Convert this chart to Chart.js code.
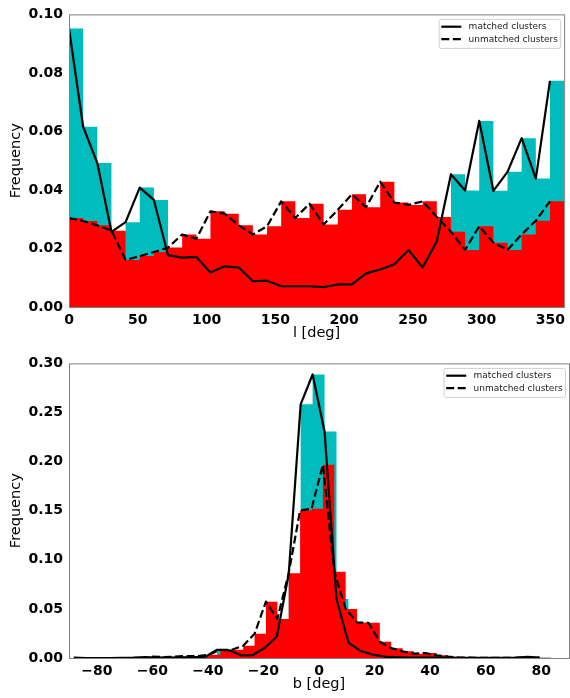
<!DOCTYPE html>
<html>
<head>
<meta charset="utf-8">
<script src="https://cdn.jsdelivr.net/npm/chart.js@4"></script>
<style>
  html, body { margin: 0; padding: 0; background: #ffffff; }
  #wrap { position: relative; width: 570px; height: 698px; }
  canvas { position: absolute; left: 0; }
  #topChart { top: 0; }
  #bottomChart { top: 349px; }
</style>
</head>
<body>
<div id="wrap">
  <canvas id="topChart" width="570" height="349"></canvas>
  <canvas id="bottomChart" width="570" height="349"></canvas>
</div>
<script>
// ---- Galactic longitude l: 35 equal bins over 0..360 deg ----
const lBinStart = 0;
const lBinWidth = 360 / 35;
const lMatched = [0.0952, 0.0616, 0.0492, 0.0257, 0.0290, 0.0408, 0.0366, 0.0177, 0.0169, 0.0171,
                  0.0118, 0.0139, 0.0135, 0.0088, 0.0090, 0.0071, 0.0071, 0.0071, 0.0068, 0.0077,
                  0.0077, 0.0115, 0.0128, 0.0146, 0.0195, 0.0135, 0.0225, 0.0454, 0.0398, 0.0636,
                  0.0397, 0.0462, 0.0577, 0.0439, 0.0773];
const lUnmatched = [0.0304, 0.0294, 0.0279, 0.0261, 0.0161, 0.0174, 0.0188, 0.0203, 0.0248, 0.0233,
                    0.0327, 0.0319, 0.0279, 0.0248, 0.0276, 0.0361, 0.0304, 0.0353, 0.0282, 0.0332,
                    0.0385, 0.0341, 0.0428, 0.0357, 0.0349, 0.0361, 0.0308, 0.0257, 0.0195, 0.0276,
                    0.0220, 0.0195, 0.0248, 0.0295, 0.0361];

// ---- Galactic latitude b: each sample has its own binning ----
const bMatchedStart = -88.3;
const bMatchedWidth = 4.3;
const bMatched = [0.0003, 0.0000, 0.0000, 0.0000, 0.0002, 0.0003, 0.0008, 0.0003, 0.0005, 0.0007,
                  0.0007, 0.0012, 0.0084, 0.0078, 0.0027, 0.0030, 0.0105, 0.0216, 0.0854, 0.2583,
                  0.2887, 0.2306, 0.0601, 0.0157, 0.0072, 0.0035, 0.0015, 0.0008, 0.0005, 0.0004,
                  0.0003, 0.0003, 0.0002, 0.0002, 0.0001, 0.0001, 0.0002, 0.0005, 0.0012, 0.0003];
const bUnmatchedStart = -60.1;
const bUnmatchedWidth = 4.1;
const bUnmatched = [0.0014, 0.0010, 0.0014, 0.0020, 0.0020, 0.0034, 0.0084, 0.0084, 0.0125, 0.0246,
                    0.0574, 0.0398, 0.0864, 0.1502, 0.1519, 0.1968, 0.0878, 0.0500, 0.0362, 0.0358,
                    0.0165, 0.0100, 0.0068, 0.0044, 0.0051, 0.0027, 0.0014, 0.0005, 0.0003, 0.0002,
                    0.0002, 0.0001, 0.0002, 0.0001, 0.0003];

// ---- Axis ticks and labels ----
const lTicks = [0, 50, 100, 150, 200, 250, 300, 350];
const bTicks = [-80, -60, -40, -20, 0, 20, 40, 60, 80];
const freqTicksL = [0, 0.02, 0.04, 0.06, 0.08, 0.10];
const freqTicksB = [0, 0.05, 0.10, 0.15, 0.20, 0.25, 0.30];
const seriesLabels = ['matched clusters', 'unmatched clusters'];

const CYAN = '#00bcbc';
const RED = '#ff0000';
const FONT = 'DejaVu Sans';
const DASH = [8, 3.5];

// Histogram outline as step points: one per bin left edge plus the closing right edge
function stepPoints(start, width, vals) {
  const pts = vals.map((v, i) => ({ x: start + i * width, y: v }));
  pts.push({ x: start + vals.length * width, y: vals[vals.length - 1] });
  return pts;
}
// Polyline through the bin left edges
function edgePoints(start, width, vals) {
  return vals.map((v, i) => ({ x: start + i * width, y: v }));
}

function histDataset(pts, color, order) {
  return {
    data: pts, stepped: 'before', fill: 'origin',
    backgroundColor: color, borderColor: 'rgba(0,0,0,0)', borderWidth: 0,
    pointRadius: 0, order: order
  };
}
function lineDataset(pts, label, dash, order) {
  return {
    data: pts, label: label, inLegend: true, fill: false,
    borderColor: '#000000', borderWidth: 2.2, borderDash: dash,
    borderJoinStyle: 'round', pointRadius: 0, order: order
  };
}

// Grey box around the plotting area
const framePlugin = {
  id: 'frame',
  afterDatasetsDraw(chart) {
    const { ctx, chartArea: a } = chart;
    ctx.save();
    ctx.strokeStyle = '#808080';
    ctx.lineWidth = 1;
    ctx.strokeRect(a.left + 0.5, a.top + 0.5, a.right - a.left, a.bottom - a.top);
    ctx.restore();
  }
};

// Legend box in the upper-right corner of the plotting area
const insideLegendPlugin = {
  id: 'insideLegend',
  afterDraw(chart) {
    const { ctx, chartArea: a } = chart;
    const items = chart.data.datasets.filter(d => d.inLegend);
    const w = 121.5, h = 29;
    const x0 = a.right - 4 - w, y0 = a.top + 4.5;
    ctx.save();
    ctx.beginPath();
    ctx.roundRect(x0 + 0.5, y0 + 0.5, w, h, 2);
    ctx.fillStyle = 'rgba(255,255,255,0.8)';
    ctx.fill();
    ctx.strokeStyle = '#d0d0d0';
    ctx.lineWidth = 1;
    ctx.stroke();
    ctx.font = '9px "' + FONT + '"';
    ctx.textBaseline = 'middle';
    ctx.textAlign = 'left';
    items.forEach((d, i) => {
      const y = y0 + 7.8 + i * 12.5;
      ctx.beginPath();
      ctx.setLineDash(d.borderDash || []);
      ctx.strokeStyle = '#000000';
      ctx.lineWidth = 2.2;
      ctx.moveTo(x0 + 2.7, y);
      ctx.lineTo(x0 + 22.7, y);
      ctx.stroke();
      ctx.setLineDash([]);
      ctx.fillStyle = '#222222';
      ctx.fillText(d.label, x0 + 30, y);
    });
    ctx.restore();
  }
};

function fmtInt(v) {
  return v < 0 ? '\u2212' + Math.abs(v) : String(v);
}

function makeChart(canvas, cfg) {
  return new Chart(canvas, {
    type: 'line',
    data: { datasets: cfg.datasets },
    plugins: [framePlugin, insideLegendPlugin],
    options: {
      responsive: false,
      animation: false,
      devicePixelRatio: 1,
      layout: { padding: { top: cfg.padTop, right: 1, left: 0, bottom: 0 } },
      plugins: { legend: { display: false }, tooltip: { enabled: false } },
      scales: {
        x: {
          type: 'linear', min: cfg.xMin, max: cfg.xMax,
          grid: { display: false, drawTicks: false },
          border: { display: false },
          afterBuildTicks: s => { s.ticks = cfg.xTicks.map(v => ({ value: v })); },
          afterFit: s => { s.height = cfg.xAxisHeight; },
          ticks: {
            autoSkip: false, maxRotation: 0, padding: 5, color: '#000000',
            font: { family: FONT, size: 14, weight: 'bold' },
            callback: v => fmtInt(v)
          },
          title: {
            display: true, text: cfg.xTitle, color: '#000000',
            font: { family: FONT, size: 14.5 },
            padding: { top: 0, bottom: cfg.xTitlePad }
          }
        },
        y: {
          type: 'linear', min: 0, max: cfg.yMax,
          grid: { display: false, drawTicks: false },
          border: { display: false },
          afterBuildTicks: s => { s.ticks = cfg.yTicks.map(v => ({ value: v })); },
          afterFit: s => { s.width = 69; },
          ticks: {
            padding: 6, color: '#000000',
            font: { family: FONT, size: 14, weight: 'bold' },
            callback: v => v.toFixed(2)
          },
          title: {
            display: true, text: 'Frequency', color: '#000000',
            font: { family: FONT, size: 14.5 },
            padding: { top: 8, bottom: 0 }
          }
        }
      }
    }
  });
}

// Longitude panel
makeChart(document.getElementById('topChart'), {
  xMin: 0, xMax: 360, xTicks: lTicks, yMax: 0.10, yTicks: freqTicksL,
  xTitle: 'l [deg]', padTop: 9, xAxisHeight: 42, xTitlePad: 7,
  datasets: [
    lineDataset(edgePoints(lBinStart, lBinWidth, lMatched), seriesLabels[0], [], 1),
    lineDataset(edgePoints(lBinStart, lBinWidth, lUnmatched), seriesLabels[1], DASH, 0),
    histDataset(stepPoints(lBinStart, lBinWidth, lUnmatched), RED, 2),
    histDataset(stepPoints(lBinStart, lBinWidth, lMatched), CYAN, 3)
  ]
});

// Latitude panel
makeChart(document.getElementById('bottomChart'), {
  xMin: -90, xMax: 90, xTicks: bTicks, yMax: 0.30, yTicks: freqTicksB,
  xTitle: 'b [deg]', padTop: 10, xAxisHeight: 40, xTitlePad: 5,
  datasets: [
    lineDataset(edgePoints(bMatchedStart, bMatchedWidth, bMatched), seriesLabels[0], [], 1),
    lineDataset(edgePoints(bUnmatchedStart, bUnmatchedWidth, bUnmatched), seriesLabels[1], DASH, 0),
    histDataset(stepPoints(bUnmatchedStart, bUnmatchedWidth, bUnmatched), RED, 2),
    histDataset(stepPoints(bMatchedStart, bMatchedWidth, bMatched), CYAN, 3)
  ]
});
</script>
</body>
</html>
